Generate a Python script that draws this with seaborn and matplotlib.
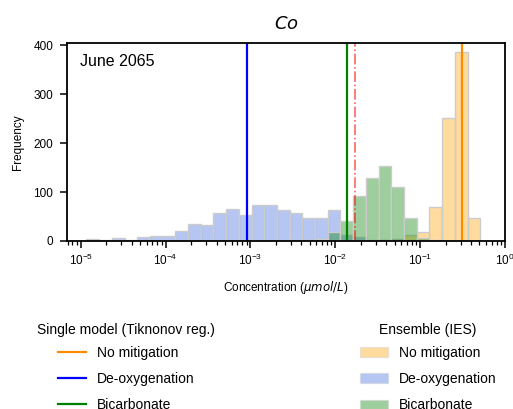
import numpy as np
import pandas as pd
import matplotlib
matplotlib.use("Agg")
import matplotlib.pyplot as plt
import seaborn as sns
from matplotlib.lines import Line2D
from matplotlib.patches import Patch

# shared log10 bin edges (31 bins)
log_lo, log_hi, n_bins = -4.932, -0.292, 31

# ensemble (IES) histogram counts per bin
no_mitigation = [0, 0, 0, 0, 0, 0, 0, 0, 0, 0, 0, 0, 0, 0, 0, 0, 0, 0, 0, 0,
                 0, 0, 0, 1, 5, 12, 19, 69, 252, 386, 46]
deoxygenation = [4, 3, 7, 2, 8, 11, 10, 20, 34, 33, 58, 65, 53, 73, 74, 63,
                 58, 48, 46, 63, 13, 9, 3, 2, 2, 1, 0, 0, 0, 0, 0]
bicarbonate = [0, 0, 0, 0, 0, 0, 0, 0, 0, 0, 0, 0, 0, 0, 0, 0, 1, 3, 5, 19,
               40, 93, 128, 153, 110, 46, 7, 2, 0, 0, 0]

# single model (Tikhonov) values
single_no_mitigation = 0.309
single_deoxygenation = 9.1e-4
single_bicarbonate = 0.0139
red_line = 0.0169

scenarios = ["No mitigation", "De-oxygenation", "Bicarbonate"]
fill_colors = {"No mitigation": "orange", "De-oxygenation": "royalblue", "Bicarbonate": "green"}
line_colors = {"No mitigation": "darkorange", "De-oxygenation": "blue", "Bicarbonate": "green"}

edges = np.linspace(log_lo, log_hi, n_bins + 1)
centers = 10 ** ((edges[:-1] + edges[1:]) / 2)

plt.rcParams["font.family"] = ["Liberation Sans", "DejaVu Sans"]
plt.rcParams["mathtext.fontset"] = "dejavusans"
plt.rcParams["font.size"] = 8.5

fig = plt.figure(figsize=(5.13, 4.09), dpi=100)
ax = fig.add_axes([0.1306, 0.4108, 0.8538, 0.4841])

# draw order: blue, orange, green (green ends on top)
for name, counts in [("De-oxygenation", deoxygenation),
                     ("No mitigation", no_mitigation),
                     ("Bicarbonate", bicarbonate)]:
    df = pd.DataFrame({"conc": centers, "count": counts})
    sns.histplot(data=df, x="conc", weights="count", bins=list(edges), log_scale=True,
                 color=fill_colors[name], alpha=0.38, edgecolor="0.8",
                 linewidth=1, ax=ax)

ax.axvline(single_no_mitigation, color=line_colors["No mitigation"], lw=1.6)
ax.axvline(single_deoxygenation, color=line_colors["De-oxygenation"], lw=1.6)
ax.axvline(single_bicarbonate, color=line_colors["Bicarbonate"], lw=1.6)
ax.axvline(red_line, color="red", lw=1.2, ls="-.", alpha=0.6)

ax.set_xlim(6.9e-6, 1)
ax.set_ylim(0, 405)
ax.set_yticks([0, 100, 200, 300, 400])
ax.set_xlabel(r"Concentration ($\mu mol/L$)", labelpad=8)
ax.set_ylabel("Frequency", labelpad=7)
ax.set_title(r"$Co$", fontsize=13, pad=10)
ax.text(0.03, 0.905, "June 2065", transform=ax.transAxes, fontsize=11.5,
        va="center", ha="left")

for s in ax.spines.values():
    s.set_linewidth(1.3)
ax.tick_params(axis="both", which="major", length=5, width=1.1, labelsize=8.5)
ax.tick_params(axis="y", pad=5)
ax.tick_params(axis="x", which="minor", length=3, width=0.9)

line_handles = [Line2D([0], [0], color=line_colors[s], lw=1.6) for s in scenarios]
patch_handles = [Patch(facecolor=fill_colors[s], alpha=0.38, edgecolor="0.8") for s in scenarios]

leg1 = fig.legend(line_handles, scenarios, title="Single model (Tiknonov reg.)",
                  loc="upper center", bbox_to_anchor=(126 / 513, 0.232),
                  frameon=False, fontsize=10, title_fontsize=10,
                  labelspacing=0.88, borderaxespad=0)
leg2 = fig.legend(patch_handles, scenarios, title="Ensemble (IES)",
                  loc="upper center", bbox_to_anchor=(428 / 513, 0.232),
                  frameon=False, fontsize=10, title_fontsize=10,
                  labelspacing=0.88, borderaxespad=0)
for leg in (leg1, leg2):
    leg.get_title().set_position((0, -3))

fig.savefig("out.png", dpi=100)
